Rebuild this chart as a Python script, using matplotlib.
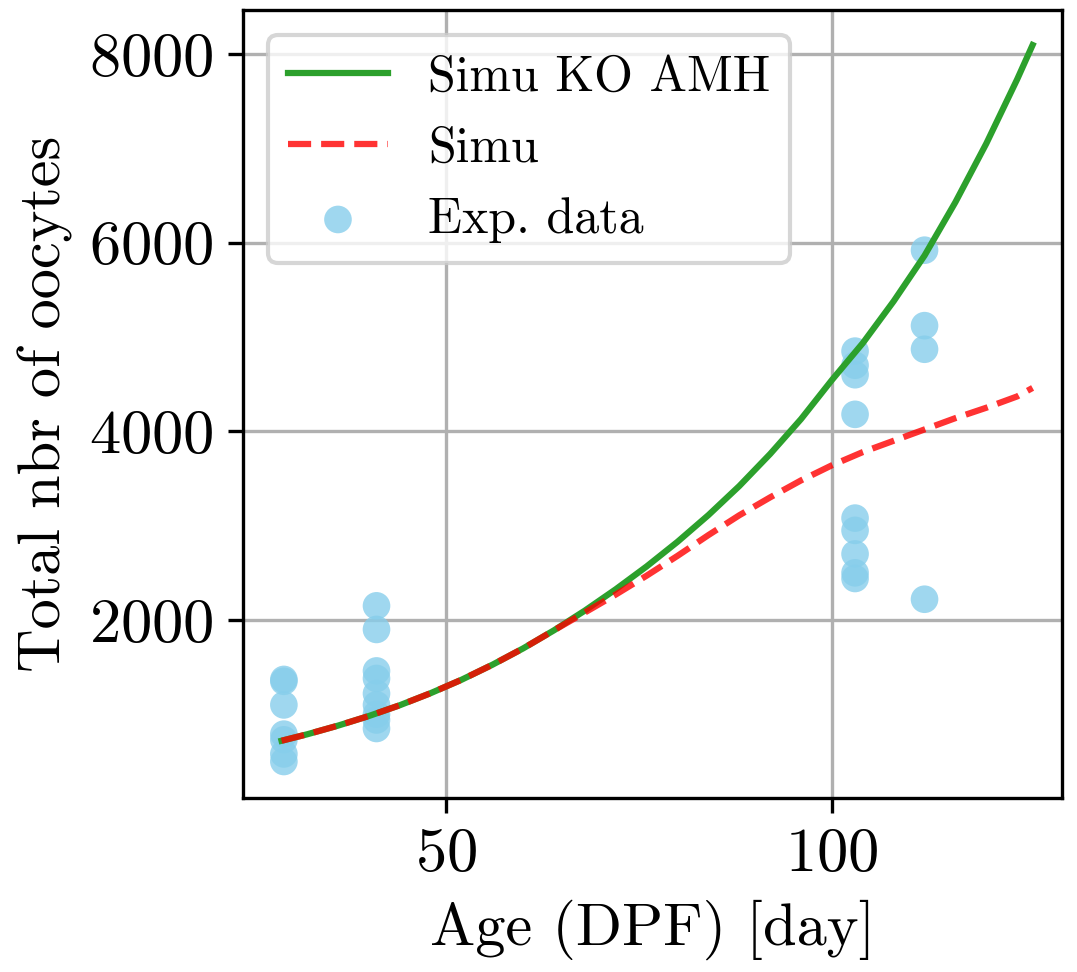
import matplotlib
matplotlib.use("Agg")
import matplotlib.pyplot as plt

plt.rcParams["font.family"] = "serif"
plt.rcParams["font.serif"] = ["cmr10", "DejaVu Serif"]
plt.rcParams["mathtext.fontset"] = "cm"
plt.rcParams["axes.formatter.use_mathtext"] = True

# Simulated oocyte totals (model with AMH knocked out)
ko_days = [28.7, 32, 36, 40, 44, 48, 52, 56, 60, 64, 68, 72, 76, 80, 84, 88,
           92, 96, 100, 104, 108, 112, 116, 120, 124, 126]
ko_total = [720, 788, 880, 982, 1096, 1224, 1366, 1525, 1699, 1891, 2100, 2326,
            2568, 2829, 3112, 3420, 3760, 4130, 4544, 4935, 5379, 5863, 6429,
            7050, 7731, 8095]

# Simulated oocyte totals (reference model)
simu_days = [28.7, 32, 36, 40, 44, 48, 52, 56, 60, 64, 68, 72, 76, 80, 84, 88,
             92, 96, 100, 104, 108, 112, 116, 120, 124, 126]
simu_total = [720, 788, 880, 982, 1096, 1224, 1366, 1525, 1699, 1891, 2080, 2270,
              2470, 2680, 2900, 3110, 3300, 3480, 3640, 3780, 3900, 4020, 4140,
              4250, 4370, 4460]

# Experimental counts grouped by age
exp_age = ([29] * 7) + ([41] * 9) + ([103] * 9) + ([112] * 4)
exp_count = [1370, 1350, 1100, 790, 730, 580, 500,
             2150, 1900, 1460, 1380, 1220, 1100, 1000, 940, 850,
             4850, 4700, 4600, 4180, 3080, 2950, 2700, 2500, 2440,
             5920, 5120, 4870, 2220]

x_ticks = [50, 100]
y_ticks = [2000, 4000, 6000, 8000]

fig = plt.figure(figsize=(1077 / 300, 972 / 300), dpi=300)
ax = fig.add_axes([0.2256, 0.179, 0.7604, 0.8107])

ax.plot(ko_days, ko_total, color="#2ca02c", lw=1.5, label="Simu KO AMH", zorder=3)
ax.plot(simu_days, simu_total, "--", color="red", alpha=0.8, lw=1.5,
        label="Simu", zorder=4)
ax.scatter(exp_age, exp_count, color="skyblue", alpha=0.8, s=44,
           edgecolors="none", label="Exp. data", zorder=2)

ax.set_xlim(23.7, 129.8)
ax.set_ylim(113, 8466)
ax.set_xticks(x_ticks)
ax.set_yticks(y_ticks)
ax.tick_params(labelsize=15)
ax.grid(True, color="#b0b0b0", lw=0.8)
ax.set_axisbelow(True)
ax.set_xlabel("Age (DPF) [day]", fontsize=14.5)
ax.set_ylabel("Total nbr of oocytes", fontsize=14.5)
ax.legend(loc="upper left", fontsize=12)

fig.savefig("out.png", dpi=300)
